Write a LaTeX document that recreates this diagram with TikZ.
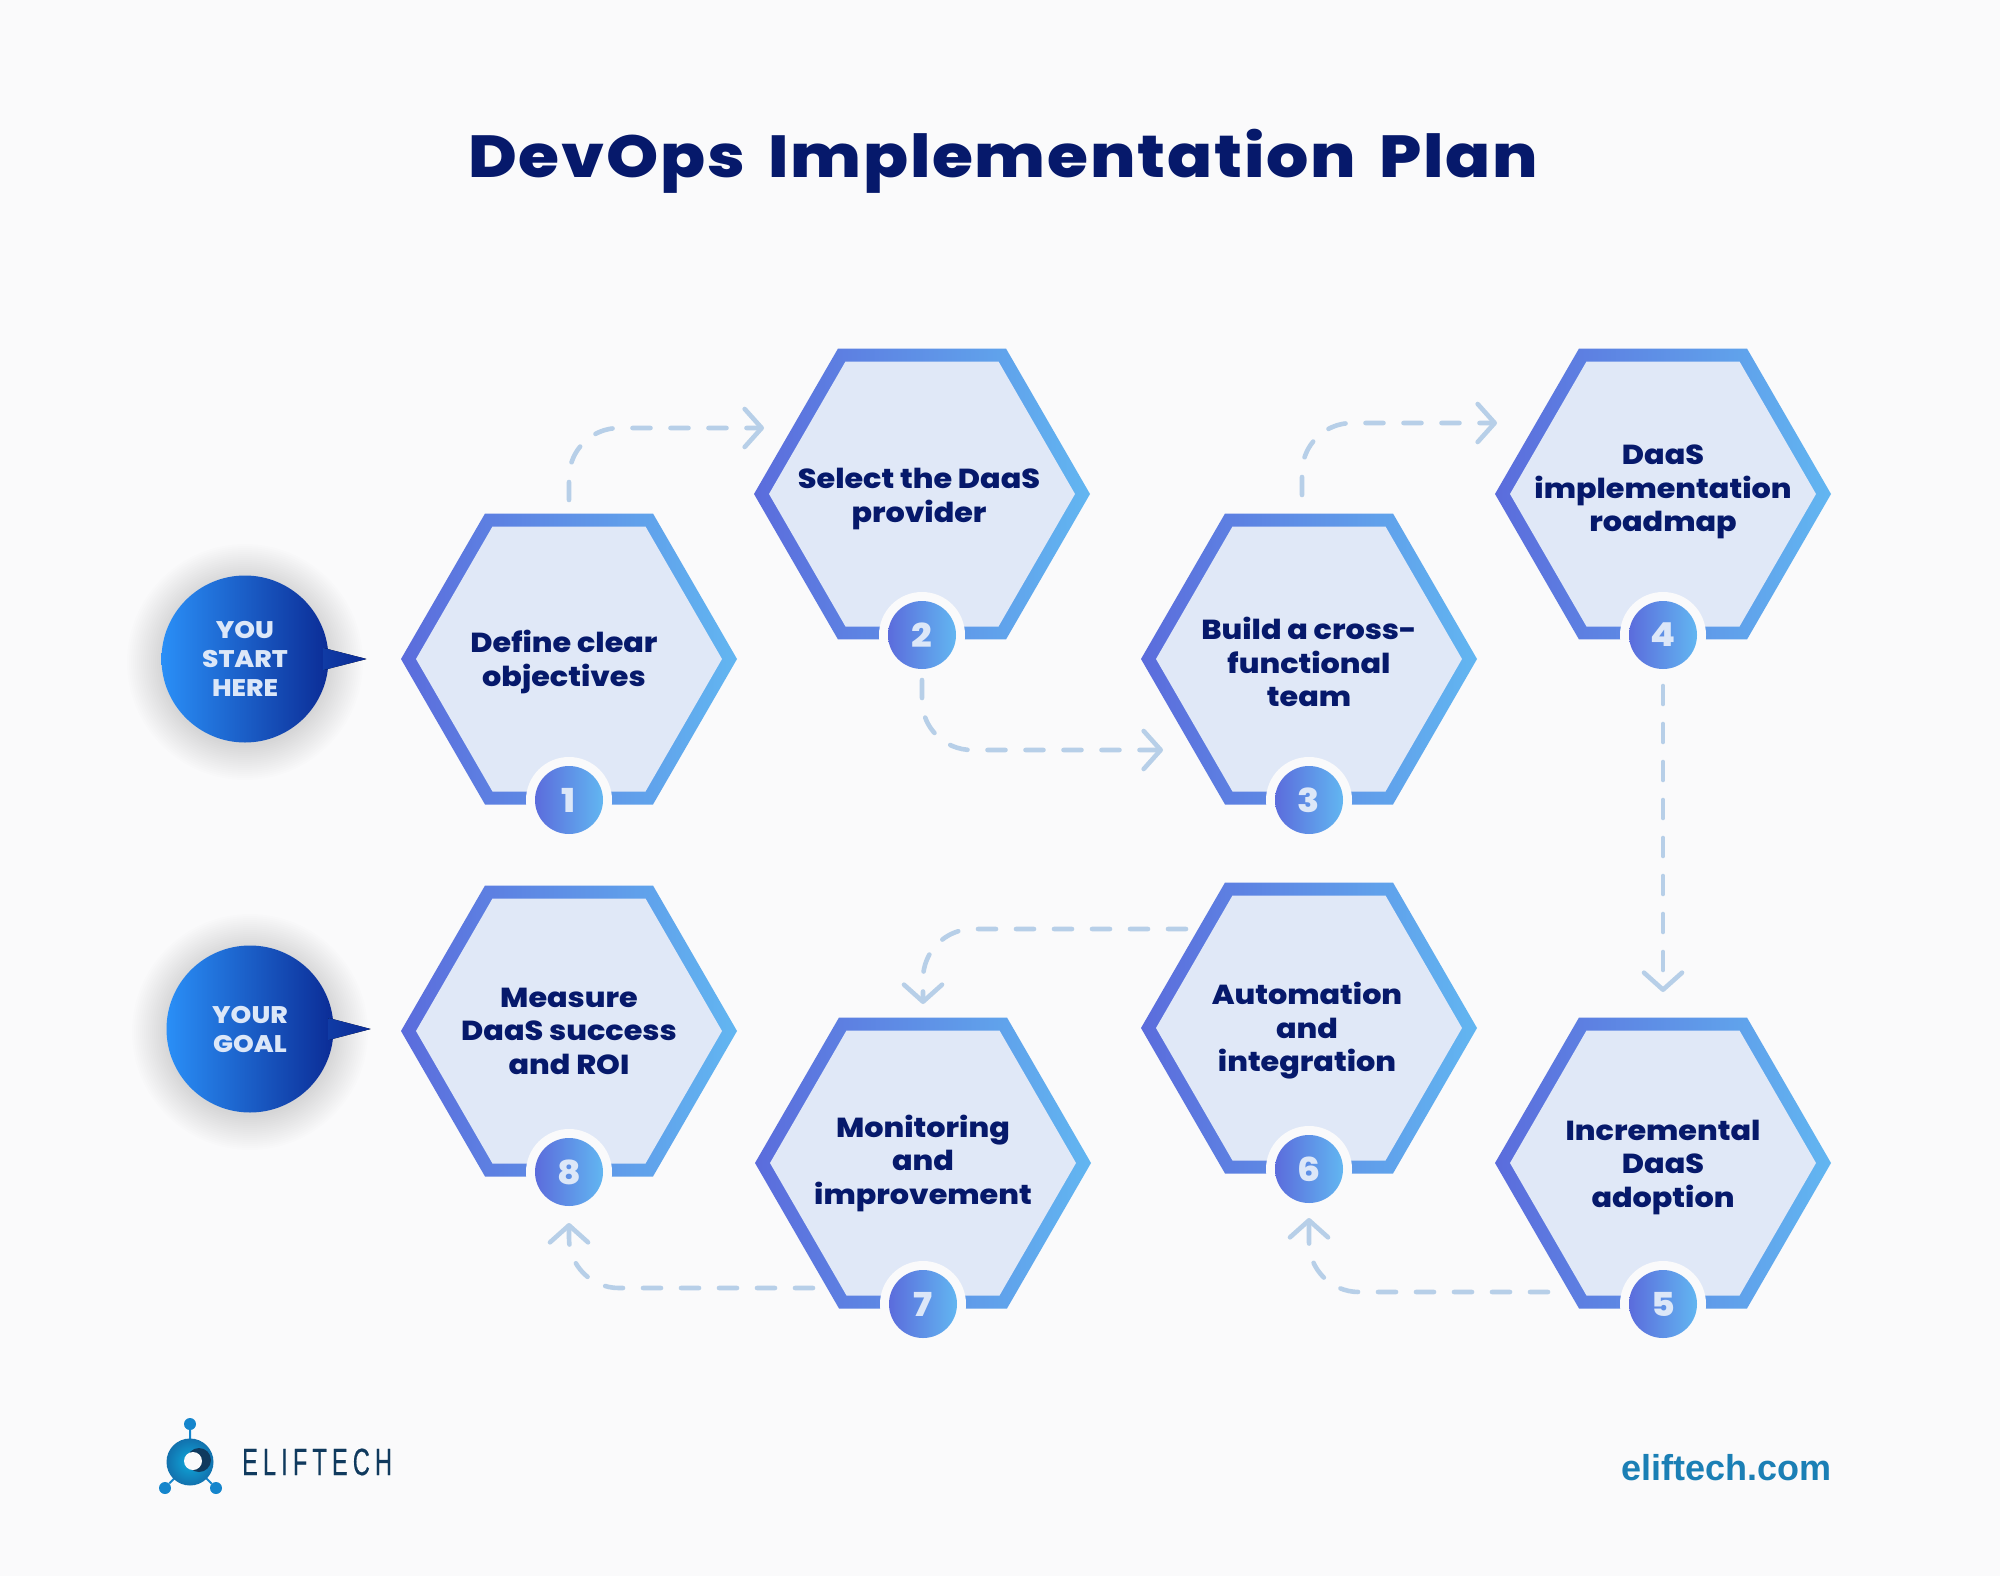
\documentclass[tikz,border=0pt]{standalone}
\usepackage{fontspec}
\setmainfont{Poppins}[BoldFont={* ExtraBold},FakeStretch=1.1]
\newfontfamily\titlefont{Poppins}[BoldFont={* ExtraBold},FakeStretch=1.12,LetterSpace=3,WordSpace=1.6]
\newfontfamily\wordmarkfont{Liberation Sans}[FakeStretch=0.62,LetterSpace=13.5,FakeBold=0.4]
\newfontfamily\sitefont{Liberation Sans}[BoldFont={* Bold}]
\usetikzlibrary{arrows.meta,shapes.geometric}

\definecolor{pagebg}{HTML}{FAFAFB}
\definecolor{navy}{HTML}{06196B}
\definecolor{edgeleft}{HTML}{5B6CDC}
\definecolor{edgeright}{HTML}{62B6F1}
\definecolor{cellfill}{HTML}{E0E8F7}
\definecolor{flowblue}{HTML}{B7CFE8}
\definecolor{numtext}{HTML}{DCE7F8}
\definecolor{bubbleleft}{HTML}{2A8FF7}
\definecolor{bubbleright}{HTML}{0B2C96}
\definecolor{logoblue}{HTML}{1585CC}
\definecolor{logodark}{HTML}{103A5E}
\definecolor{sitecolor}{HTML}{1B7FB5}

\tikzset{
  hexouter/.style={regular polygon,regular polygon sides=6,
    minimum size=336pt,inner sep=0pt,left color=edgeleft,right color=edgeright},
  hexinner/.style={regular polygon,regular polygon sides=6,
    minimum size=306pt,inner sep=0pt,fill=cellfill},
  celltext/.style={text=navy,align=center,inner sep=0pt,
    font=\fontsize{27.5}{33.5}\selectfont\bfseries},
  numring/.style={circle,minimum size=86pt,inner sep=0pt,fill=pagebg},
  numdisc/.style={circle,minimum size=68pt,inner sep=0pt,left color=edgeleft,right color=edgeright,
    text=numtext,font=\fontsize{33}{33}\selectfont\bfseries},
  bubble/.style={circle,minimum size=167pt,inner sep=0pt,left color=bubbleleft,right color=bubbleright,
    text=numtext,align=center,font=\fontsize{24}{29}\selectfont\bfseries},
  flow/.style={draw=flowblue,line width=4.6pt,line cap=round,dash pattern=on 18pt off 20pt,
    rounded corners=50pt,-{Straight Barb[round,length=17pt,width=38pt]}},
  logodot/.style={circle,minimum size=12pt,inner sep=0pt,fill=logoblue}
}

\begin{document}
\begin{tikzpicture}[x=1pt,y=-1pt]
  \fill[pagebg] (0,0) rectangle (2000,1576);
  \useasboundingbox (0,0) rectangle (2000,1576);

  % Title
  \node[text=navy,font=\titlefont\fontsize{59.3}{70}\selectfont\bfseries] (title) at (1003,161) {DevOps Implementation Plan};

  % Hexagons with their numbers
  \foreach \n/\px/\py/\dx/\dy/\txt in {
    1/569/659/-5/3/{Define clear\\objectives},
    2/922/494/-3/5/{Select the DaaS\\provider},
    3/1309/659/0/3/{Build a cross-\\functional\\team},
    4/1663/494/0/-2/{DaaS\\implementation\\roadmap},
    5/1663/1163/0/4/{Incremental\\DaaS\\adoption},
    6/1309/1028/-2/3/{Automation\\and\\integration},
    7/923/1163/0/0/{Monitoring\\and\\improvement},
    8/569/1031/0/0/{Measure\\DaaS success\\and ROI}}
  {
    \node[hexouter] (cell\n) at (\px,\py) {};
    \node[hexinner] (inner\n) at (\px,\py) {};
    \node[celltext] (label\n) at (\px+\dx,\py+\dy) {\txt};
    \node[numring] (ring\n) at ([yshift=-141pt]cell\n.center) {};
    \node[numdisc] (num\n) at (ring\n.center) {\n};
  }

  % Connections between the steps
  \draw[flow] ([yshift=159pt]cell1.center) |- ([xshift=-158pt,yshift=66pt]cell2.center);
  \draw[flow] ([yshift=-186pt]cell2.center) |- ([xshift=-146pt,yshift=-91pt]cell3.center);
  \draw[flow] ([xshift=-7pt,yshift=164pt]cell3.center) |- ([xshift=-166pt,yshift=71pt]cell4.center);
  \draw[flow] ([yshift=-192pt]cell4.center) -- ([yshift=171pt]cell5.center);
  \draw[flow] ([xshift=-115pt,yshift=-129pt]cell5.center) -| ([yshift=-190pt]cell6.center);
  \draw[flow] ([xshift=-123pt,yshift=99pt]cell6.center) -| ([yshift=159pt]cell7.center);
  \draw[flow] ([xshift=-110pt,yshift=-125pt]cell7.center) -| ([yshift=-192pt]cell8.center);

  % Speech bubbles
  \coordinate (startpos) at (245,659);
  \coordinate (goalpos) at (250,1029);
  \foreach \r in {84,86,...,118} {
    \fill[blue!30!black,opacity=0.008] ([yshift=-3pt]startpos) circle (\r pt);
    \fill[blue!30!black,opacity=0.008] ([yshift=-3pt]goalpos) circle (\r pt);
  }
  \node[bubble] (start) at (startpos) {YOU\\START\\HERE};
  \node[bubble] (goal) at (goalpos) {YOUR\\GOAL};
  \fill[left color=bubbleright!85!bubbleleft,right color=bubbleright]
    ([xshift=-5pt,yshift=11pt]start.east) -- ([xshift=38pt]start.east) -- ([xshift=-5pt,yshift=-11pt]start.east) -- cycle;
  \fill[left color=bubbleright!85!bubbleleft,right color=bubbleright]
    ([xshift=-5pt,yshift=11pt]goal.east) -- ([xshift=37pt]goal.east) -- ([xshift=-5pt,yshift=-11pt]goal.east) -- cycle;

  % Logo
  \coordinate (logopos) at (190,1462);
  \node[logodot] (dotA) at (190,1424) {};
  \node[logodot] (dotB) at (165,1488) {};
  \node[logodot] (dotC) at (216,1488) {};
  \draw[logoblue,line width=2pt] (logopos) -- (dotA) (logopos) -- (dotB) (logopos) -- (dotC);
  \node[circle,minimum size=47pt,inner sep=0pt,inner color=logoblue!70!cyan,outer color=logoblue!85!black] (logoball) at (logopos) {};
  \node[circle,minimum size=24pt,inner sep=0pt,fill=logodark] (logoeye) at (199,1460) {};
  \node[circle,minimum size=18pt,inner sep=0pt,fill=pagebg] (logohole) at (193,1461) {};
  \node[anchor=west,inner sep=0pt,text=logodark,font=\wordmarkfont\fontsize{38}{38}\selectfont] (wordmark) at (242,1462) {ELIFTECH};

  % Web address
  \node[anchor=east,inner sep=0pt,text=sitecolor,font=\sitefont\fontsize{36}{36}\selectfont\bfseries] (site) at (1832,1468) {eliftech.com};
\end{tikzpicture}
\end{document}
